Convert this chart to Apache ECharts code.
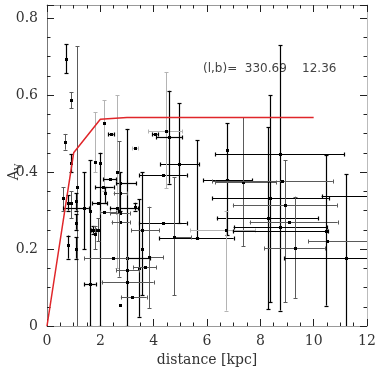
<!DOCTYPE html>
<html>
<head>
<meta charset="utf-8">
<script src="https://cdn.jsdelivr.net/npm/echarts@6/dist/echarts.min.js"></script>
<style>html,body{margin:0;padding:0;background:#fff;}#chart{width:380px;height:370px;}</style>
</head>
<body>
<div id="chart"></div>
<script>
// distance [kpc] of each star, with error range
const dist   = [0.71,0.90,1.11,0.68,0.91,0.61,0.78,0.90,1.07,1.39,1.07,0.80,1.09,1.60,1.80,1.97,2.15,2.61,3.00,2.48,1.74,1.93,1.80,2.10,2.74,2.36,2.17,2.74,1.92,2.15,2.61,2.74,3.30,2.74,2.70,4.36,4.96,4.36,3.57,3.46,3.55,5.61,4.76,3.82,3.00,3.67,3.00,1.61,3.20,2.74,4.45,4.59,6.75,6.75,7.36,8.73,8.37,8.29,8.92,9.08,8.75,6.71,9.30,10.46,11.21,10.50,12.50,4.05,2.40,3.30,8.81];
const distLo = [0.71,0.90,1.11,0.68,0.91,0.61,0.78,0.90,1.07,0.60,1.07,0.80,1.09,1.60,1.80,1.97,2.15,2.61,3.00,1.40,1.65,1.93,1.80,1.80,2.60,2.10,2.17,2.50,1.70,2.00,2.36,2.36,3.30,2.42,2.70,3.45,4.24,3.46,3.57,3.46,3.15,4.20,4.76,3.82,2.60,3.23,2.05,1.40,2.77,2.74,3.79,4.09,6.75,5.85,6.30,6.30,6.20,6.37,6.97,7.60,7.00,5.36,8.14,6.97,8.90,9.80,10.30,3.95,2.30,3.20,6.20];
const distHi = [0.71,0.90,1.11,0.68,0.91,0.61,0.78,0.90,1.07,1.57,1.07,0.80,1.09,1.60,1.80,1.97,2.15,2.61,3.86,3.00,1.85,1.93,1.80,2.50,3.35,2.60,2.17,3.00,2.25,2.60,3.41,3.10,3.30,3.10,2.70,5.24,5.70,5.24,3.57,3.46,4.20,7.00,5.40,4.35,3.45,4.10,4.00,1.83,3.74,2.74,5.06,5.06,6.75,7.70,8.60,11.14,10.57,10.16,10.87,10.90,10.50,7.80,10.42,10.54,12.50,12.50,12.50,4.15,2.50,3.40,10.72];
// A_V of each star, with error range
const av     = [0.693,0.587,0.360,0.478,0.423,0.333,0.320,0.320,0.324,0.307,0.268,0.210,0.200,0.300,0.427,0.424,0.527,0.400,0.176,0.176,0.249,0.249,0.240,0.362,0.372,0.382,0.345,0.345,0.320,0.297,0.306,0.293,0.310,0.271,0.300,0.267,0.420,0.392,0.200,0.150,0.249,0.229,0.232,0.180,0.145,0.154,0.115,0.108,0.075,0.055,0.507,0.490,0.457,0.380,0.374,0.446,0.332,0.280,0.314,0.270,0.257,0.249,0.202,0.247,0.177,0.220,0.338,0.499,0.498,0.462,0.377];
const avLo   = [0.657,0.566,0.000,0.458,0.400,0.300,0.300,0.280,0.300,0.200,0.250,0.175,0.175,0.000,0.400,0.000,0.350,0.150,0.000,0.176,0.240,0.220,0.200,0.362,0.300,0.382,0.320,0.345,0.320,0.297,0.306,0.293,0.300,0.271,0.128,0.267,0.267,0.392,0.080,0.024,0.249,0.229,0.080,0.047,0.145,0.154,0.115,0.108,0.075,0.055,0.358,0.370,0.380,0.236,0.208,0.040,0.062,0.044,0.062,0.270,0.257,0.040,0.073,0.053,-0.050,0.220,0.338,0.499,0.498,0.462,0.377];
const avHi   = [0.732,0.608,0.727,0.499,0.447,0.360,0.340,0.350,0.345,0.400,0.290,0.235,0.230,0.430,0.555,0.450,0.587,0.600,0.512,0.176,0.260,0.280,0.260,0.362,0.400,0.382,0.360,0.345,0.320,0.297,0.306,0.293,0.320,0.271,0.480,0.267,0.579,0.392,0.400,0.330,0.249,0.483,0.387,0.310,0.145,0.154,0.115,0.108,0.075,0.055,0.660,0.611,0.527,0.380,0.543,0.730,0.600,0.517,0.430,0.270,0.257,0.300,0.336,0.443,0.394,0.220,0.338,0.499,0.498,0.462,0.377];
// 0 = black, 1 = gray, 2 = light gray
const shade  = [0,1,1,1,0,1,0,1,0,0,0,0,0,0,2,0,2,2,0,1,0,1,1,0,0,0,0,1,0,1,0,1,0,1,1,0,0,0,0,0,1,0,1,1,1,1,1,0,1,0,2,0,0,0,1,0,0,0,1,1,0,2,1,0,0,1,0,0,0,2,1];

// extinction model (red line)
const modelDist = [0, 1, 2, 3, 10];
const modelAv   = [0, 0.45, 0.537, 0.542, 0.542];

const xTicks = [0, 2, 4, 6, 8, 10, 12];
const yTicks = [0, 0.2, 0.4, 0.6, 0.8];
const labelText = '(l,b)=  330.69    12.36';

const shadeColors = ['#000000', '#5a5a5a', '#b4b4b4'];
const errData = dist.map((d, i) => [d, av[i], distLo[i], distHi[i], avLo[i], avHi[i], shade[i]]);
const modelData = modelDist.map((d, i) => [d, modelAv[i]]);

function seg(x1, y1, x2, y2, col, w) {
  return { type: 'line', shape: { x1: x1, y1: y1, x2: x2, y2: y2 }, style: { stroke: col, lineWidth: w } };
}
function renderItem(params, api) {
  const x = api.value(0), y = api.value(1), xl = api.value(2), xh = api.value(3),
        yl = api.value(4), yh = api.value(5), s = api.value(6);
  const col = shadeColors[s];
  const w = s === 0 ? 1.2 : 1;
  const ch = [];
  const c = api.coord([x, y]);
  const r = v => Math.round(v) + 0.5;
  if (xh > xl) {
    const a = api.coord([xl, y]), b = api.coord([xh, y]);
    const yy = r(a[1]);
    ch.push(seg(a[0], yy, b[0], yy, col, w));
    ch.push(seg(r(a[0]), yy - 2, r(a[0]), yy + 2, col, w));
    ch.push(seg(r(b[0]), yy - 2, r(b[0]), yy + 2, col, w));
  }
  if (yh > yl) {
    const a = api.coord([x, yl]), b = api.coord([x, yh]);
    const xx = r(a[0]);
    ch.push(seg(xx, a[1], xx, b[1], col, w));
    ch.push(seg(xx - 2, r(a[1]), xx + 2, r(a[1]), col, w));
    ch.push(seg(xx - 2, r(b[1]), xx + 2, r(b[1]), col, w));
  }
  ch.push({ type: 'rect', shape: { x: Math.round(c[0]) - 1, y: Math.round(c[1]) - 1, width: 3, height: 3 }, style: { fill: '#000' } });
  return { type: 'group', children: ch };
}

const fontFam = 'DejaVu Serif';
function tickStyle() { return { show: true, inside: true, length: 7, lineStyle: { color: '#222', width: 1 } }; }
function minorStyle() { return { show: true, splitNumber: 4, length: 3.5, lineStyle: { color: '#222', width: 1 } }; }

const chart = echarts.init(document.getElementById('chart'), null, { renderer: 'canvas' });
chart.setOption({
  animation: false,
  backgroundColor: '#ffffff',
  grid: { left: 47, right: 13, top: 5, bottom: 44, containLabel: false, outerBoundsMode: 'none' },
  xAxis: [
    {
      type: 'value', position: 'bottom', min: 0, max: 12, interval: 2,
      axisLine: { show: true, onZero: false, lineStyle: { color: '#999', width: 1 } },
      axisTick: tickStyle(), minorTick: minorStyle(), splitLine: { show: false },
      axisLabel: { color: '#333', fontFamily: fontFam, fontSize: 14, margin: 8,
        formatter: v => xTicks.indexOf(v) >= 0 ? String(v) : '' },
      name: 'distance [kpc]', nameLocation: 'middle', nameGap: 24,
      nameTextStyle: { color: '#333', fontFamily: fontFam, fontSize: 14 }
    },
    {
      type: 'value', position: 'top', min: 0, max: 12, interval: 2,
      axisLine: { show: true, onZero: false, lineStyle: { color: '#999', width: 1 } },
      axisTick: tickStyle(), minorTick: minorStyle(), splitLine: { show: false },
      axisLabel: { show: false }
    }
  ],
  yAxis: [
    {
      type: 'value', position: 'left', min: 0, max: 0.834, interval: 0.2,
      axisLine: { show: true, onZero: false, lineStyle: { color: '#777', width: 1 } },
      axisTick: tickStyle(), minorTick: minorStyle(), splitLine: { show: false },
      axisLabel: { color: '#333', fontFamily: fontFam, fontSize: 14, margin: 9,
        formatter: v => { const k = yTicks.findIndex(t => Math.abs(t - v) < 1e-6); return k >= 0 ? (yTicks[k] === 0 ? '0' : yTicks[k].toFixed(1)) : ''; } }
    },
    {
      type: 'value', position: 'right', min: 0, max: 0.834, interval: 0.2,
      axisLine: { show: true, onZero: false, lineStyle: { color: '#bbb', width: 1 } },
      axisTick: tickStyle(), minorTick: minorStyle(), splitLine: { show: false },
      axisLabel: { show: false }
    }
  ],
  graphic: [
    { type: 'text', left: 203, top: 63, style: { text: labelText, fill: '#444', font: '12px "DejaVu Sans"' } },
    { type: 'text', x: 14, y: 172, rotation: Math.PI / 2,
      style: { text: '{a|A}{v|V}', align: 'center', verticalAlign: 'middle',
        rich: {
          a: { fill: '#333', fontFamily: fontFam, fontSize: 14 },
          v: { fill: '#333', fontFamily: fontFam, fontSize: 9, verticalAlign: 'top', padding: [9, 0, 0, 0] }
        } } }
  ],
  series: [
    {
      type: 'custom', xAxisIndex: 0, yAxisIndex: 0, clip: true,
      renderItem: renderItem, data: errData, z: 2
    },
    {
      type: 'line', xAxisIndex: 0, yAxisIndex: 0, data: modelData, symbol: 'none',
      lineStyle: { color: '#e0262a', width: 1.5 }, z: 5
    }
  ]
});
</script>
</body>
</html>
